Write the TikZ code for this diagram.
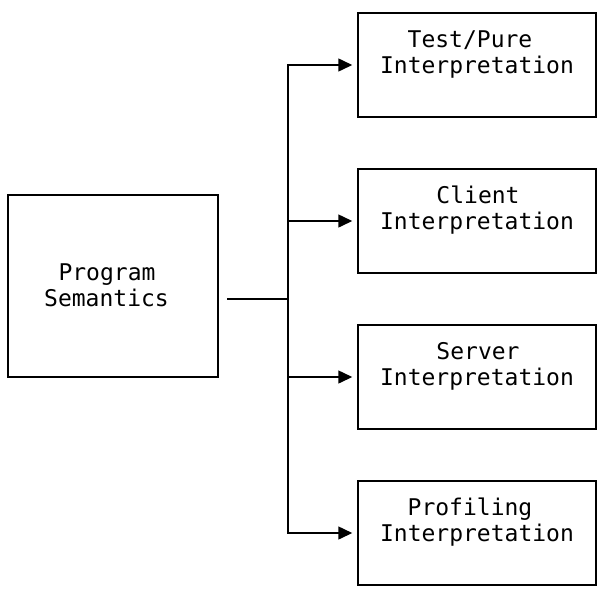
\documentclass[tikz,border=0pt]{standalone}
\usepackage{fontspec}
\setmonofont{DejaVu Sans Mono}
\usetikzlibrary{arrows.meta}
\begin{document}
\begin{tikzpicture}[x=1pt,y=-1pt,
  box/.style={draw,line width=1.5pt,minimum width=#1,inner sep=0pt},
  rbox/.style={box=238pt,minimum height=104pt},
  lbl/.style={anchor=base,inner sep=0pt,font=\ttfamily\fontsize{23}{26}\selectfont},
  wire/.style={line width=1.5pt},
  arr/.style={wire,-{Triangle[length=14pt,width=13pt]},shorten >=5pt}]
\useasboundingbox (0,0) rectangle (604,600);
\node[box=210pt,minimum height=182pt] (ps) at (113,286) {};
\node[rbox] (b1) at (477,65) {};
\node[rbox] (b2) at (477,221) {};
\node[rbox] (b3) at (477,377) {};
\node[rbox] (b4) at (477,533) {};
\node[lbl] (t0a) at (107,280) {Program};
\node[lbl] (t0b) at (106.5,306) {Semantics};
\node[lbl] (t1a) at (470,47) {Test/Pure};
\node[lbl] (t1b) at (477,73) {Interpretation};
\node[lbl] (t2a) at (478,203) {Client};
\node[lbl] (t2b) at (477,229) {Interpretation};
\node[lbl] (t3a) at (478,359) {Server};
\node[lbl] (t3b) at (477,385) {Interpretation};
\node[lbl] (t4a) at (470,515) {Profiling};
\node[lbl] (t4b) at (477,541) {Interpretation};
\coordinate (s) at (227,299);
\coordinate (j) at (288,299);
\draw[wire] (s) -- (j);
\draw[arr] (j) |- (b1.west);
\draw[arr] (j) |- (b2.west);
\draw[arr] (j) |- (b3.west);
\draw[arr] (j) |- (b4.west);
\end{tikzpicture}
\end{document}
